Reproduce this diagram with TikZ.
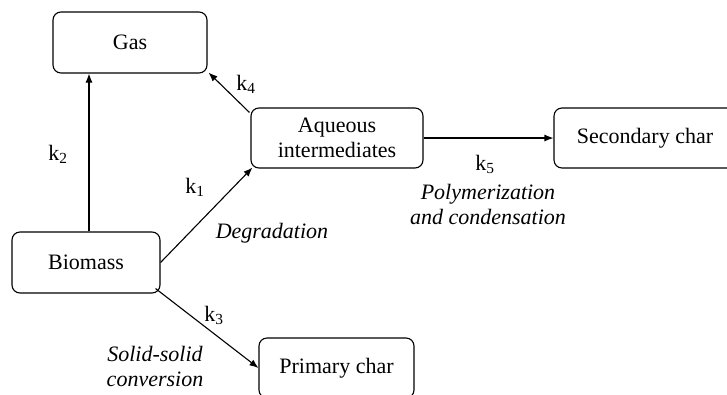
\documentclass[tikz,border=0pt]{standalone}
\usepackage{fontspec}
\setmainfont{Liberation Serif}
\usetikzlibrary{arrows.meta}
\tikzset{
  box/.style={draw, rounded corners=8pt, line width=1.1pt, align=center, inner sep=0pt},
  arr/.style={line width=1.1pt, -{Latex[length=9pt,width=7pt]}},
  lbl/.style={inner sep=0pt, align=center},
}
\begin{document}
\begin{tikzpicture}[x=1pt,y=-1pt,font=\fontsize{22}{25.5}\selectfont]
\useasboundingbox (0,0) rectangle (727,394);
\clip (0,0) rectangle (727,394);
\node[box, minimum width=154pt, minimum height=61pt] (gas) at (130,42.5) {Gas};
\node[box, minimum width=148pt, minimum height=61pt] (bio) at (86,262.5) {Biomass};
\node[box, minimum width=172pt, minimum height=60pt] (aq) at (337,138) {Aqueous\\intermediates};
\node[box, minimum width=182pt, minimum height=60pt] (sec) at (645,138) {Secondary char};
\node[box, minimum width=155pt, minimum height=60pt] (prim) at (336.5,368) {Primary char};
\draw[arr] ([xshift=3pt]bio.north) -- ([xshift=-41pt]gas.south);
\draw[arr] ([xshift=-1pt,yshift=-5pt]aq.north west) -- ([xshift=1pt,yshift=1pt]gas.south east);
\draw[arr] (bio.east) -- ([xshift=2pt,yshift=1pt]aq.south west);
\draw[arr] ([xshift=-5pt,yshift=5pt]bio.south east) -- (prim.west);
\draw[arr] (aq.east) -- (sec.west);
\node[lbl] (l1) at (195,187) {k\textsubscript{1}};
\node[lbl] (l2) at (58,154) {k\textsubscript{2}};
\node[lbl] (l3) at (214,315) {k\textsubscript{3}};
\node[lbl] (l4) at (246,84) {k\textsubscript{4}};
\node[lbl] (l5) at (485,164) {k\textsubscript{5}};
\node[lbl, font=\fontsize{22}{25.5}\selectfont\itshape] (deg) at (272,233) {Degradation};
\node[lbl, font=\fontsize{22}{25}\selectfont\itshape] (poly) at (488,204) {Polymerization\\and condensation};
\node[lbl, font=\fontsize{22}{25}\selectfont\itshape] (sol) at (155,366) {Solid-solid\\conversion};
\end{tikzpicture}
\end{document}
